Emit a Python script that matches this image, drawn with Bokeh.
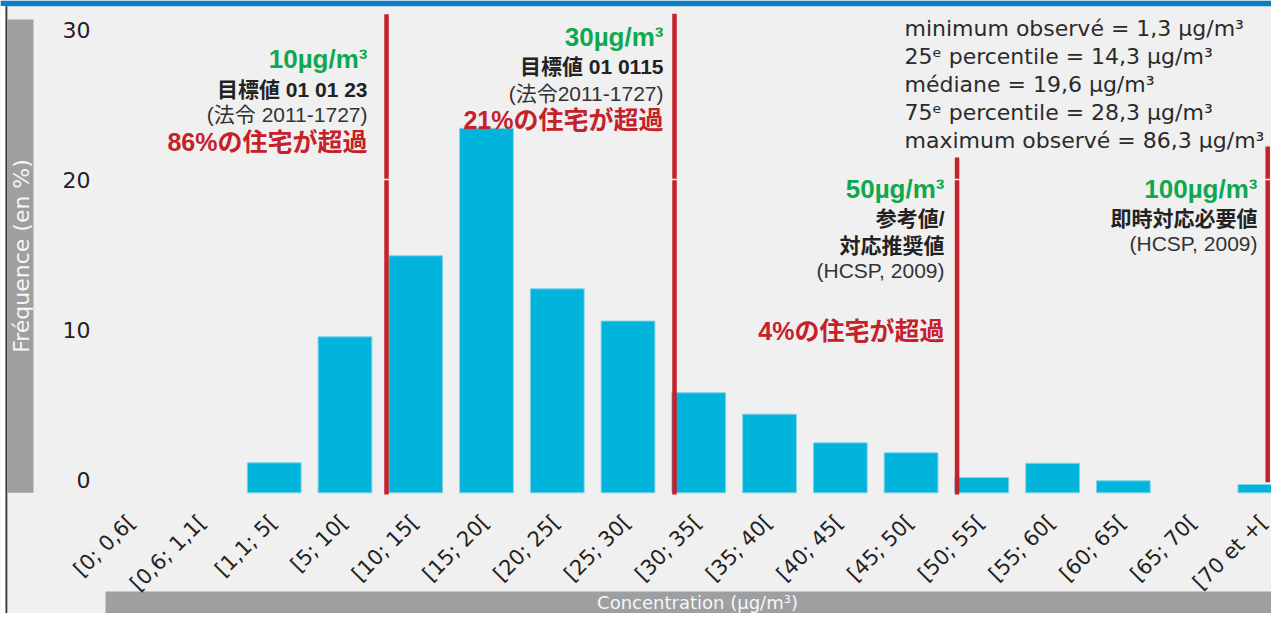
import math
from bokeh.plotting import figure
from bokeh.models import Range1d
from bokeh.core.properties import value
from bokeh.embed import file_html
from bokeh.resources import INLINE

# ---------------- data ----------------
categories = ["[0; 0,6[", "[0,6; 1,1[", "[1,1; 5[", "[5; 10[", "[10; 15[", "[15; 20[",
              "[20; 25[", "[25; 30[", "[30; 35[", "[35; 40[", "[40; 45[", "[45; 50[",
              "[50; 55[", "[55; 60[", "[60; 65[", "[65; 70[", "[70 et +["]
frequency = [0, 0, 2.0, 10.4, 15.8, 24.3, 13.6, 11.45, 6.67, 5.24, 3.33, 2.67,
             1.02, 1.97, 0.8, 0, 0.55]
y_ticks = [0, 10, 20, 30]
y_tick_labels = ["0", "10", "20", "30"]

threshold_values = [10, 30, 50, 100]
threshold_pos = [3.587, 7.657, 11.65, 16.04]      # position on the category axis
threshold_top = [31.9, 31.93, 22.35, 23.09]
threshold_bottom = [-0.12, -0.12, -0.12, 0.71]

threshold_labels = ["10µg/m³", "30µg/m³", "50µg/m³", "100µg/m³"]
threshold_names = [["目標値 01 01 23"], ["目標値 01 0115"], ["参考値/", "対応推奨値"], ["即時対応必要値"]]
threshold_sources = ["(法令 2011-1727)", "(法令2011-1727)", "(HCSP, 2009)", "(HCSP, 2009)"]
threshold_exceed = ["86%の住宅が超過", "21%の住宅が超過", "4%の住宅が超過", None]

stats_lines = ["minimum observé = 1,3 µg/m³",
               "25ᵉ percentile = 14,3 µg/m³",
               "médiane = 19,6 µg/m³",
               "75ᵉ percentile = 28,3 µg/m³",
               "maximum observé = 86,3 µg/m³"]

y_title = "Fréquence (en %)"
x_title = "Concentration (µg/m³)"

# ---------------- layout helpers (screen px -> data) ----------------
W, H = 1271, 613
X0, SX = 132.2, 70.76
Y0, SY = 492.3, 15.0
def dx(px):
    return (px - X0) / SX
def dy(py):
    return (Y0 - py) / SY
def base(py, size):
    # alphabetic baseline at screen py for a font of given px size
    return dy(py - 0.38 * size)

BG = "#f0f0f0"
p = figure(width=W, height=H, x_range=Range1d(dx(0), dx(W)),
           y_range=Range1d(dy(H), dy(0)), output_backend="svg",
           toolbar_location=None, x_axis_type=None, y_axis_type=None,
           min_border=0, background_fill_color=BG, border_fill_color=BG,
           outline_line_color=None)

# frame decorations
p.quad(left=[dx(0)], right=[dx(W)], top=[dy(0)], bottom=[dy(5.7)],
       fill_color="#0b7ec3", line_color=None)
p.quad(left=[dx(0)], right=[dx(5)], top=[dy(5.7)], bottom=[dy(H)],
       fill_color="#ffffff", line_color=None)
p.quad(left=[dx(5)], right=[dx(6.8)], top=[dy(5.7)], bottom=[dy(H)],
       fill_color="#333333", line_color=None)

# y title band
p.quad(left=[dx(6.8)], right=[dx(33)], top=[dy(19)], bottom=[dy(492.3)],
       fill_color="#9d9fa1", line_color=None)
p.text(x=[dx(21)], y=[dy(255.5)], text=[y_title], angle=math.pi / 2,
       text_align="center", text_baseline="middle", text_color="#f6f6f6",
       text_font=value("DejaVu Sans"), text_font_size="22px")

# x title band
p.quad(left=[dx(105)], right=[dx(W)], top=[dy(591)], bottom=[dy(H)],
       fill_color="#9d9fa1", line_color=None)
p.text(x=[dx(697)], y=[dy(601.5)], text=[x_title],
       text_align="center", text_baseline="middle", text_color="#f6f6f6",
       text_font=value("DejaVu Sans"), text_font_size="18px")

# bars
p.vbar(x=list(range(len(categories))), top=frequency, bottom=0, width=0.76,
       fill_color="#00b4dc", line_color="#7fd3ea", line_width=1,
       line_alpha=[1 if v > 0 else 0 for v in frequency])

# threshold lines (with thin gap)
gap_lo, gap_hi = dy(179.8), dy(178.3)
p.segment(x0=threshold_pos, y0=threshold_bottom, x1=threshold_pos,
          y1=[gap_lo] * 4, line_color="#c4212b", line_width=4.5)
p.segment(x0=threshold_pos, y0=[gap_hi] * 4, x1=threshold_pos,
          y1=threshold_top, line_color="#c4212b", line_width=4.5)

# y tick labels
p.text(x=[dx(90)] * len(y_ticks), y=[t + (4.3 + 0.38 * 22) / SY for t in y_ticks],
       text=y_tick_labels, text_align="right", text_baseline="alphabetic",
       text_color="#222222", text_font=value("DejaVu Sans"), text_font_size="22px")

# x tick labels (rotated)
p.text(x=[i - 1 / SX for i in range(len(categories))], y=[dy(518)] * len(categories),
       text=categories, angle=math.pi / 4, text_align="right", text_baseline="middle",
       text_color="#222222", text_font=value("DejaVu Sans"), text_font_size="21px")

# stats text
p.text(x=[dx(904)] * len(stats_lines),
       y=[base(b, 22) for b in [36.7, 64.3, 92.0, 120.0, 148.3]],
       text=stats_lines, text_align="left", text_baseline="alphabetic",
       text_color="#2b2b2b", text_font=value("DejaVu Sans"), text_font_size="22px")

# threshold annotation blocks
MIX = value("'Liberation Sans', 'Noto Sans CJK JP'")
block_right = [367, 663, 944, 1257]
block_green_y = [68.3, 46.7, 198.5, 198.5]
block_name_y = [[96.7], [74.0], [226.0, 252.5], [226.0]]
block_source_y = [121.5, 100.5, 278.0, 251.0]
block_exceed_y = [150.5, 129.3, 340.0, None]

for i in range(4):
    xr = dx(block_right[i])
    p.text(x=[xr], y=[base(block_green_y[i], 26)], text=[threshold_labels[i]],
           text_align="right", text_baseline="alphabetic", text_color="#10a84e",
           text_font=value("Liberation Sans"), text_font_style="bold", text_font_size="26px")
    for name, ny in zip(threshold_names[i], block_name_y[i]):
        p.text(x=[xr], y=[base(ny, 21)], text=[name], text_align="right",
               text_baseline="alphabetic", text_color="#222222", text_font=MIX,
               text_font_style="bold", text_font_size="21px")
    p.text(x=[xr], y=[base(block_source_y[i], 21)], text=[threshold_sources[i]],
           text_align="right", text_baseline="alphabetic", text_color="#333333",
           text_font=MIX, text_font_size="21px")
    if threshold_exceed[i]:
        p.text(x=[xr], y=[base(block_exceed_y[i], 25)], text=[threshold_exceed[i]],
               text_align="right", text_baseline="alphabetic", text_color="#c4212b",
               text_font=MIX, text_font_style="bold", text_font_size="25px")

open("out.html", "w").write(file_html(p, INLINE))
